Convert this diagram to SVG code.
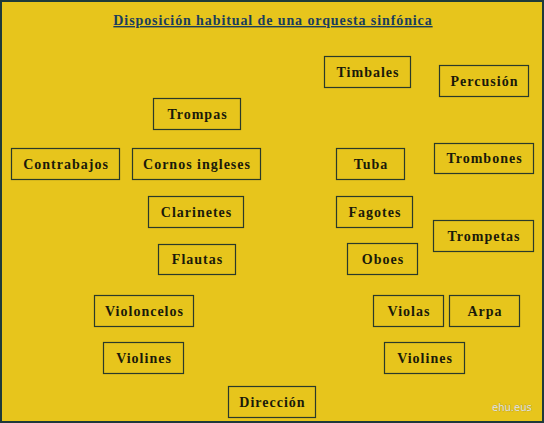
<svg xmlns="http://www.w3.org/2000/svg" width="544" height="423" viewBox="0 0 544 423">
<style>
.bg{fill:#E7C51C;stroke:#1E3A3A;stroke-width:2}
.box{fill:none;stroke:#2A3A2A;stroke-width:1.2}
.lbl{font-family:"Liberation Serif","Times New Roman",serif;font-weight:bold;font-size:14px;letter-spacing:1px;fill:#1A1A0A;text-anchor:middle}
.title{font-family:"Liberation Serif","Times New Roman",serif;font-weight:bold;font-size:14px;letter-spacing:0.9px;fill:#1A3D5C;text-anchor:middle;text-decoration:underline}
.wm{font-family:"DejaVu Sans",sans-serif;font-size:10px;fill:#E8E8E0;stroke:#8A7A30;stroke-width:0.4;paint-order:stroke}
</style>
<rect class="bg" x="1" y="1" width="542" height="421"/>
<text class="title" x="273" y="25">Disposición habitual de una orquesta sinfónica</text>
<g id="connectors"></g>
<g id="timbales"><rect class="box" x="324.5" y="56.5" width="86" height="31"/><text class="lbl" x="368" y="77">Timbales</text></g>
<g id="percusion"><rect class="box" x="439.5" y="65.5" width="89" height="31"/><text class="lbl" x="484.5" y="86">Percusión</text></g>
<g id="trompas"><rect class="box" x="153.5" y="98.5" width="87" height="31"/><text class="lbl" x="197.5" y="119">Trompas</text></g>
<g id="contrabajos"><rect class="box" x="11.5" y="148.5" width="108" height="31"/><text class="lbl" x="66" y="169">Contrabajos</text></g>
<g id="cornos"><rect class="box" x="132.5" y="148.5" width="128" height="31"/><text class="lbl" x="197" y="169">Cornos ingleses</text></g>
<g id="tuba"><rect class="box" x="336.5" y="148.5" width="68" height="31"/><text class="lbl" x="371" y="169">Tuba</text></g>
<g id="trombones"><rect class="box" x="434.5" y="143.5" width="99" height="30"/><text class="lbl" x="484.5" y="163">Trombones</text></g>
<g id="clarinetes"><rect class="box" x="148.5" y="196.5" width="95" height="31"/><text class="lbl" x="196.5" y="217">Clarinetes</text></g>
<g id="fagotes"><rect class="box" x="336.5" y="196.5" width="76" height="31"/><text class="lbl" x="375" y="217">Fagotes</text></g>
<g id="trompetas"><rect class="box" x="433.5" y="220.5" width="100" height="31"/><text class="lbl" x="484" y="241">Trompetas</text></g>
<g id="flautas"><rect class="box" x="158.5" y="244.5" width="77" height="30"/><text class="lbl" x="197.5" y="264">Flautas</text></g>
<g id="oboes"><rect class="box" x="347.5" y="243.5" width="70" height="31"/><text class="lbl" x="383" y="264">Oboes</text></g>
<g id="violoncelos"><rect class="box" x="94.5" y="295.5" width="99" height="31"/><text class="lbl" x="144.5" y="316">Violoncelos</text></g>
<g id="violas"><rect class="box" x="373.5" y="295.5" width="70" height="31"/><text class="lbl" x="409" y="316">Violas</text></g>
<g id="arpa"><rect class="box" x="449.5" y="295.5" width="70" height="31"/><text class="lbl" x="485" y="316">Arpa</text></g>
<g id="violines-izq"><rect class="box" x="103.5" y="342.5" width="80" height="31"/><text class="lbl" x="144" y="363">Violines</text></g>
<g id="violines-der"><rect class="box" x="384.5" y="342.5" width="80" height="31"/><text class="lbl" x="425" y="363">Violines</text></g>
<g id="direccion"><rect class="box" x="228.5" y="386.5" width="87" height="31"/><text class="lbl" x="272.5" y="407">Dirección</text></g>
<text class="wm" x="492" y="411">ehu.eus</text>
</svg>
